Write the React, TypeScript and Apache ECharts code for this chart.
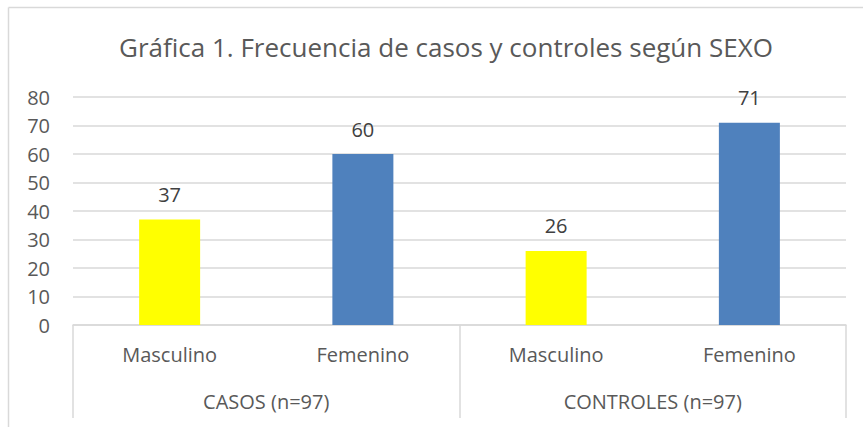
import React, { useEffect, useRef } from "react";
import * as echarts from "echarts";

const titleText = "Gráfica 1. Frecuencia de casos y controles según SEXO";
const sexCategories = ["Masculino", "Femenino", "Masculino", "Femenino"];
const groupCategories = ["CASOS (n=97)", "CONTROLES (n=97)"];
const frequencies = [37, 60, 26, 71];
const yTicks = { min: 0, max: 80, interval: 10 };

const sexColors: Record<string, string> = {
  Masculino: "#FFFF00",
  Femenino: "#4F81BD",
};

const FONT = "'Open Sans', sans-serif";
const GRID_COLOR = "#d9d9d9";
const LABEL_COLOR = "#595959";

export default function App() {
  const ref = useRef<HTMLDivElement>(null);

  useEffect(() => {
    if (!ref.current) return;
    const chart = echarts.init(ref.current, undefined, { renderer: "svg" });
    chart.setOption({
      animation: false,
      backgroundColor: "#ffffff",
      textStyle: { fontFamily: FONT },
      grid: { left: 73, right: 17, top: 97, bottom: 102, containLabel: false },
      graphic: [
        {
          type: "line",
          shape: { x1: 8.5, y1: 7.5, x2: 863, y2: 7.5 },
          style: { stroke: GRID_COLOR, lineWidth: 1.5 },
          silent: true,
        },
        {
          type: "line",
          shape: { x1: 8.5, y1: 7.5, x2: 8.5, y2: 427 },
          style: { stroke: GRID_COLOR, lineWidth: 1.5 },
          silent: true,
        },
        {
          type: "text",
          x: 446,
          y: 47,
          style: {
            text: titleText,
            fill: LABEL_COLOR,
            font: `26px ${FONT}`,
            textAlign: "center",
            textVerticalAlign: "middle",
          },
        },
      ],
      xAxis: [
        {
          type: "category",
          gridIndex: 0,
          position: "bottom",
          data: sexCategories,
          axisLine: { show: true, lineStyle: { color: GRID_COLOR, width: 1.5 } },
          axisTick: { show: false },
          axisLabel: {
            color: LABEL_COLOR,
            fontSize: 20,
            fontFamily: FONT,
            margin: 19,
            interval: 0,
          },
          splitLine: { show: false },
        },
        {
          type: "category",
          gridIndex: 0,
          position: "bottom",
          data: groupCategories,
          axisLine: { show: false },
          axisTick: {
            show: true,
            length: 93,
            lineStyle: { color: GRID_COLOR, width: 1.5 },
          },
          axisLabel: {
            color: LABEL_COLOR,
            fontSize: 20,
            fontFamily: FONT,
            margin: 66,
            interval: 0,
          },
          splitLine: { show: false },
        },
      ],
      yAxis: {
        type: "value",
        min: yTicks.min,
        max: yTicks.max,
        interval: yTicks.interval,
        axisLine: { show: false },
        axisTick: { show: false },
        axisLabel: {
          color: LABEL_COLOR,
          fontSize: 20,
          fontFamily: FONT,
          margin: 23,
        },
        splitLine: { show: true, lineStyle: { color: GRID_COLOR, width: 1.5 } },
      },
      series: [
        {
          type: "bar",
          xAxisIndex: 0,
          barWidth: 61,
          data: frequencies.map((v, i) => ({
            value: v,
            itemStyle: { color: sexColors[sexCategories[i]] },
          })),
          label: {
            show: true,
            position: "top",
            distance: 15,
            color: "#404040",
            fontSize: 20,
            fontFamily: FONT,
          },
        },
      ],
    });
    return () => chart.dispose();
  }, []);

  return (
    <div
      ref={ref}
      style={{ position: "fixed", left: 0, top: 0, width: 863, height: 427, background: "#fff" }}
    />
  );
}
